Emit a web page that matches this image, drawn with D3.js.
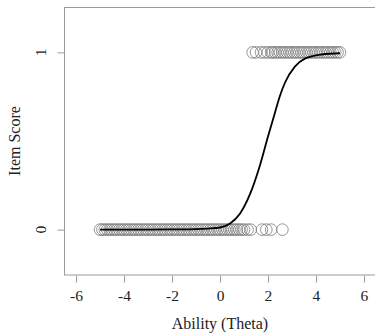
<!DOCTYPE html>
<html>
<head>
<meta charset="utf-8">
<script src="https://cdn.jsdelivr.net/npm/d3@7"></script>
<style>
	body { margin: 0; background: #fff; }
	text { font-family: "Liberation Serif", "DejaVu Serif", serif; fill: #222; }
</style>
</head>
<body>
<svg id="irt" width="375" height="333" viewBox="0 0 375 333"></svg>
<script>

// observed responses: ability values scored 0
const zeroTheta = [
	-5.0, -4.9, -4.8, -4.7, -4.6, -4.5, -4.4, -4.3, -4.2, -4.1,
	-4.0, -3.9, -3.8, -3.7, -3.6, -3.5, -3.4, -3.3, -3.2, -3.1,
	-3.0, -2.9, -2.8, -2.7, -2.6, -2.5, -2.4, -2.3, -2.2, -2.1,
	-2.0, -1.9, -1.8, -1.7, -1.6, -1.5, -1.4, -1.3, -1.2, -1.1,
	-1.0, -0.9, -0.8, -0.7, -0.6, -0.5, -0.4, -0.3, -0.2, -0.1,
	0.0, 0.1, 0.2, 0.3, 0.4, 0.5, 0.6, 0.7, 0.8, 0.9,
	1.0, 1.15, 1.28, 1.75, 1.93, 2.13, 2.6
];

// observed responses: ability values scored 1
const oneTheta = [
	1.36, 1.5, 1.71, 1.85, 1.99, 2.13,
	2.2, 2.3, 2.4, 2.5, 2.6, 2.7, 2.8, 2.9, 3.0, 3.1,
	3.2, 3.3, 3.4, 3.5, 3.6, 3.7, 3.8, 3.9, 4.0, 4.1,
	4.2, 4.3, 4.4, 4.5, 4.6, 4.7, 4.8, 4.9, 5.0
];

// fitted item characteristic curve
const curveTheta = [-5, -4, -3, -2, -1, -0.5, 0, 0.42, 0.83, 1.25, 1.67, 2.0, 2.29, 2.5, 2.71, 3.12, 3.54, 4.24, 5];
const curveProb  = [0, 0, 0, 0.001, 0.003, 0.006, 0.012, 0.035, 0.09, 0.2, 0.365, 0.525, 0.66, 0.755, 0.83, 0.92, 0.965, 0.988, 0.995];

const xTicks = [-6, -4, -2, 0, 2, 4, 6];
const yTicks = [0, 1];

function whenDocumentLoaded(action) {
	if (document.readyState === "loading") {
		document.addEventListener("DOMContentLoaded", action);
	} else {
		action();
	}
}

whenDocumentLoaded(() => {
	const svg = d3.select('#irt');

	// R style: limits padded by 4%
	const x = d3.scaleLinear().domain([-6.48, 6.48]).range([64.5, 375.5]);
	const y = d3.scaleLinear().domain([-0.256, 1.256]).range([275, 7]);

	const points = zeroTheta.map(t => ({theta: t, score: 0}))
		.concat(oneTheta.map(t => ({theta: t, score: 1})));

	svg.append('g')
		.selectAll('circle')
		.data(points)
		.enter()
		.append('circle')
			.attr('cx', d => x(d.theta))
			.attr('cy', d => y(d.score))
			.attr('r', 5.8)
			.style('fill', 'none')
			.style('stroke', '#7a7a7a')
			.style('stroke-width', 0.8);

	const line = d3.line()
		.x(d => x(d[0]))
		.y(d => y(d[1]))
		.curve(d3.curveMonotoneX);

	svg.append('path')
		.datum(d3.zip(curveTheta, curveProb))
		.attr('d', line)
		.style('fill', 'none')
		.style('stroke', '#000')
		.style('stroke-width', 1.8);

	// plot box
	svg.append('rect')
		.attr('x', 64.5)
		.attr('y', 7.5)
		.attr('width', 312)
		.attr('height', 267.5)
		.style('fill', 'none')
		.style('stroke', '#9a9a9a')
		.style('stroke-width', 1);

	// x axis
	const xAxis = d3.axisBottom(x)
		.tickValues(xTicks)
		.tickSize(7)
		.tickSizeOuter(0)
		.tickPadding(7)
		.tickFormat(d => String(d));

	const gx = svg.append('g')
		.attr('transform', 'translate(0, 275.5)')
		.call(xAxis);
	gx.select('.domain').remove();
	gx.selectAll('line').style('stroke', '#9a9a9a');
	gx.selectAll('text')
		.style('font-size', '15.5px')
		.style('fill', '#222')
		.style('font-family', '"Liberation Serif", serif');

	// y axis, labels rotated like R's default las = 0
	const yAxis = d3.axisLeft(y)
		.tickValues(yTicks)
		.tickSize(7)
		.tickSizeOuter(0)
		.tickFormat('');

	const gy = svg.append('g')
		.attr('transform', 'translate(64.5, 0)')
		.call(yAxis);
	gy.select('.domain').remove();
	gy.selectAll('line').style('stroke', '#9a9a9a');

	svg.append('g')
		.selectAll('text')
		.data(yTicks)
		.enter()
		.append('text')
			.attr('transform', d => 'translate(46,' + y(d) + ') rotate(-90)')
			.attr('text-anchor', 'middle')
			.style('font-size', '15.5px')
			.text(d => d);

	// axis titles
	svg.append('text')
		.attr('x', 220)
		.attr('y', 329)
		.attr('text-anchor', 'middle')
		.style('font-size', '16px')
		.text('Ability (Theta)');

	svg.append('text')
		.attr('transform', 'translate(20, 141) rotate(-90)')
		.attr('text-anchor', 'middle')
		.style('font-size', '16px')
		.text('Item Score');
});
</script>
</body>
</html>
